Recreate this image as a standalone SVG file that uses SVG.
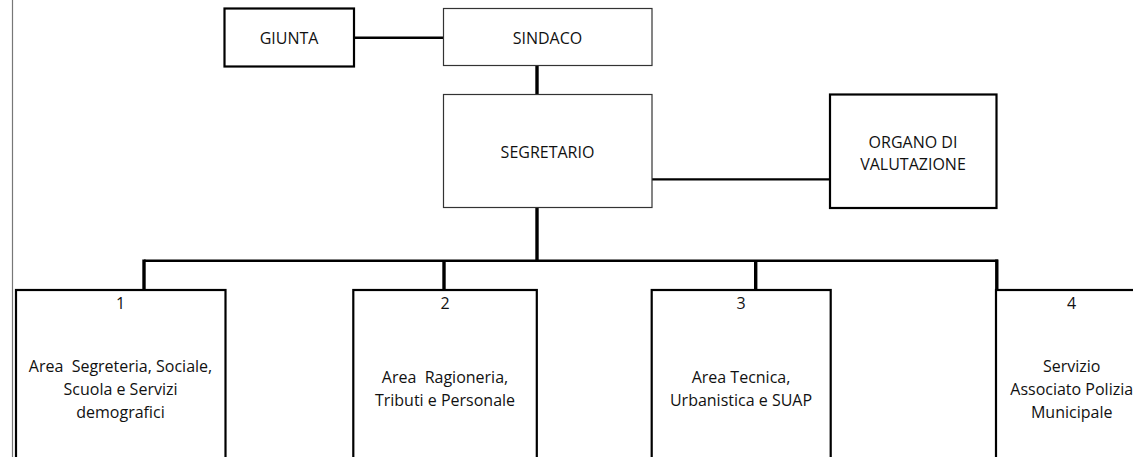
<svg xmlns="http://www.w3.org/2000/svg" width="1133" height="457" viewBox="0 0 1133 457">
<style>
.thick{fill:#fff;stroke:#000;stroke-width:2.2}
.thin{fill:#fff;stroke:#333;stroke-width:1.2}
.t{font-family:"Open Sans","Liberation Sans",Arial,sans-serif;font-size:16px;fill:#111;text-anchor:middle}
.c{stroke:#000;fill:none}
</style>
<rect width="1133" height="457" fill="#fff"/>
<line x1="12.5" y1="0" x2="12.5" y2="457" stroke="#777" stroke-width="1.2"/>
<g id="connectors">
<line class="c" x1="354" y1="37.7" x2="444" y2="37.7" stroke-width="2.4"/>
<line class="c" x1="537" y1="66" x2="537" y2="94" stroke-width="3.4"/>
<line class="c" x1="652" y1="179.3" x2="831" y2="179.3" stroke-width="2.2"/>
<line class="c" x1="537" y1="208" x2="537" y2="261" stroke-width="3.4"/>
<line class="c" x1="144" y1="260.8" x2="998" y2="260.8" stroke-width="2.6"/>
<line class="c" x1="144" y1="259.5" x2="144" y2="291" stroke-width="3.4"/>
<line class="c" x1="444" y1="260.8" x2="444" y2="291" stroke-width="3.4"/>
<line class="c" x1="755.7" y1="260.8" x2="755.7" y2="291" stroke-width="3.4"/>
<line class="c" x1="996.8" y1="259.5" x2="996.8" y2="291" stroke-width="3.4"/>
</g>
<g id="giunta">
<rect class="thick" x="224.5" y="8.5" width="129.5" height="58"/>
<text class="t" x="289" y="44">GIUNTA</text>
</g>
<g id="sindaco">
<rect class="thin" x="443.5" y="8.5" width="208.5" height="57"/>
<text class="t" x="547.5" y="44">SINDACO</text>
</g>
<g id="segretario">
<rect class="thin" x="443.5" y="94.5" width="208.5" height="113"/>
<text class="t" x="547.5" y="158.3">SEGRETARIO</text>
</g>
<g id="organo">
<rect class="thick" x="830" y="94.5" width="166.5" height="113.5"/>
<text class="t" x="913" y="148.3">ORGANO DI</text>
<text class="t" x="913" y="170">VALUTAZIONE</text>
</g>
<g id="area1">
<rect class="thick" x="16" y="290" width="209.5" height="180"/>
<text class="t" x="120.5" y="309.3">1</text>
<text class="t" x="120.5" y="371.7" xml:space="preserve">Area  Segreteria, Sociale,</text>
<text class="t" x="120.5" y="395">Scuola e Servizi</text>
<text class="t" x="120.5" y="418.3">demografici</text>
</g>
<g id="area2">
<rect class="thick" x="353.3" y="290" width="183.5" height="180"/>
<text class="t" x="445" y="309.3">2</text>
<text class="t" x="445" y="382.7" xml:space="preserve">Area  Ragioneria,</text>
<text class="t" x="445" y="405.7">Tributi e Personale</text>
</g>
<g id="area3">
<rect class="thick" x="651.7" y="290" width="179" height="180"/>
<text class="t" x="741" y="309.3">3</text>
<text class="t" x="741" y="382.7">Area Tecnica,</text>
<text class="t" x="741" y="405.7">Urbanistica e SUAP</text>
</g>
<g id="area4">
<rect class="thick" x="996" y="290" width="160" height="180"/>
<text class="t" x="1071.7" y="309.3">4</text>
<text class="t" x="1071.7" y="371.7">Servizio</text>
<text class="t" x="1071.7" y="395">Associato Polizia</text>
<text class="t" x="1071.7" y="418.3">Municipale</text>
</g>
</svg>
